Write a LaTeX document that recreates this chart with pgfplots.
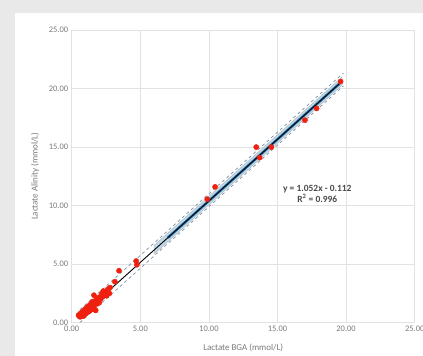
\documentclass[border=0pt]{standalone}
\usepackage{pgfplots}
\pgfplotsset{compat=1.18}
\usepackage{fontspec}
\setmainfont{Carlito}
\definecolor{bggray}{HTML}{E9E9E9}
\definecolor{gridc}{HTML}{E2E2E2}
\definecolor{tickc}{HTML}{7A7A7A}
\definecolor{eqc}{HTML}{4A4A4A}
\definecolor{ptred}{HTML}{F0200F}
\definecolor{bandblue}{HTML}{2A78B0}
\definecolor{shadeblue}{HTML}{BFD9E8}
\definecolor{dashc}{HTML}{7890A8}
\begin{document}
\begin{tikzpicture}
\clip (0bp,0bp) rectangle (423bp,356bp);
\fill[bggray] (0bp,0bp) rectangle (423bp,356bp);
\fill[white] (15bp,0bp) rectangle (423bp,343bp);
\begin{axis}[
  at={(71.7bp,33.3bp)}, anchor=origin,
  scale only axis, width=343bp, height=292.7bp,
  xmin=0, xmax=25, ymin=0, ymax=25,
  xtick={0,5,...,25}, ytick={0,5,...,25},
  grid=major, major grid style={gridc, line width=0.8bp},
  axis line style={gridc, line width=0.8bp},
  major tick length=0pt,
  tick label style={font=\fontsize{8.5}{10}\selectfont, text=tickc},
  /pgf/number format/assume math mode=true,
  /pgf/number format/.cd, fixed, fixed zerofill, precision=2, /pgfplots/.cd,
  xlabel={Lactate BGA (mmol/L)}, ylabel={Lactate Alinity (mmol/L)},
  label style={font=\fontsize{9}{11}\selectfont, text=tickc},
  xlabel style={at={(axis description cs:0.5,-0.0864)}, anchor=center},
  ylabel style={at={(axis description cs:-0.107,0.5)}, anchor=center},
  clip=false,
]
% prediction interval (dashed)
\addplot[dashc, dashed, line width=0.7bp] coordinates {(0.6,0.02) (19.8,20.22)};
\addplot[dashc, dashed, line width=0.7bp] coordinates {(0.6,1.12) (19.8,21.32)};
% confidence band
\addplot[fill=shadeblue, draw=gray!60, line width=0.4bp] coordinates {(6.0,5.86) (19.7,20.28) (19.7,20.98) (6.0,6.60)} -- cycle;
\addplot[bandblue, line width=2.6bp] coordinates {(7.0,7.25) (19.5,20.40)};
% fitted line
\addplot[black, line width=0.9bp] coordinates {(0.6,0.52) (19.7,20.61)};
% data
\addplot[only marks, mark=*, mark size=2.6bp, color=ptred, fill=ptred] coordinates {
(0.55,0.55) (0.5,0.65) (0.6,0.7) (0.62,0.5) (0.65,0.8) (0.7,0.6) (0.72,0.75)
(0.75,0.9) (0.8,0.7) (0.82,0.55) (0.85,1.0) (0.88,0.8) (0.9,0.65) (0.95,1.1)
(0.98,0.9) (1.0,0.75) (1.02,1.2) (1.05,1.0) (1.1,0.85) (1.12,1.3) (1.15,1.1)
(1.2,0.95) (1.22,1.4) (1.25,1.2) (1.3,1.0) (1.32,1.5) (1.35,1.3) (1.4,1.1)
(1.42,1.65) (1.45,1.4) (1.5,1.2) (1.52,1.8) (1.55,1.5) (1.6,1.3) (1.62,2.35)
(1.65,1.7) (1.7,1.1) (1.75,1.05) (1.75,1.9) (1.8,1.6) (1.85,2.1) (1.9,1.8)
(2.0,1.7) (2.05,2.2) (2.1,2.0) (2.2,2.5) (2.25,2.2) (2.3,2.7) (2.4,2.4)
(2.5,2.6) (2.55,2.3) (2.6,2.8) (2.7,2.9) (2.75,2.5) (2.8,3.0)
(3.15,3.5) (3.45,4.44) (4.7,5.27) (4.75,4.95)
(9.88,10.55) (10.45,11.6) (13.45,15.0) (13.7,14.1) (14.55,15.0)
(17.0,17.3) (17.85,18.3) (19.6,20.6)
};
\node[font=\fontsize{9.5}{11.5}\selectfont\bfseries, text=eqc, align=center] at (axis cs:17.9,11.0) {y = 1.052x - 0.112\\R\textsuperscript{2} = 0.996};
\end{axis}
\end{tikzpicture}
\end{document}
